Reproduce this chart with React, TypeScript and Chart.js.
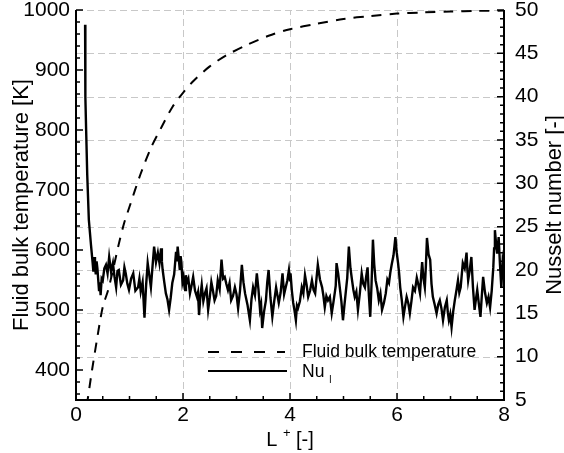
import React, { useEffect, useRef } from "react";
import { Chart, registerables } from "chart.js";

Chart.register(...registerables);

// ---- data ----
const tempL = [0.2, 0.25, 0.3, 0.4, 0.5, 0.6, 0.7, 0.8, 0.9, 1.0, 1.2, 1.4, 1.6, 1.8, 2.0, 2.2, 2.5, 2.8, 3.2, 3.6, 4.0, 4.5, 5.0, 5.5, 6.0, 6.5, 7.0, 7.5, 8.0];
const tempK = [340, 370, 400, 455, 505, 533, 570, 610, 645, 672, 725, 770, 805, 838, 862, 882, 906, 924, 942, 957, 968, 977, 985, 990, 994, 996, 997.5, 998.5, 999];

const nuL = [
  0.17, 0.175, 0.19, 0.21, 0.24, 0.28,
  0.31, 0.325, 0.34, 0.355, 0.37, 0.385, 0.40, 0.415, 0.43, 0.445, 0.46, 0.48, 0.50, 0.53,
  0.56, 0.59, 0.62, 0.655, 0.69, 0.72, 0.75, 0.775, 0.80, 0.84, 0.88, 0.905, 0.93, 0.96, 0.99, 1.03,
  1.07, 1.11, 1.16, 1.185, 1.21, 1.245, 1.28, 1.31, 1.34, 1.37, 1.40, 1.43, 1.46, 1.495, 1.53, 1.56,
  1.59, 1.605, 1.62, 1.65, 1.68, 1.71, 1.74, 1.77, 1.80, 1.835, 1.87, 1.885, 1.90, 1.92, 1.94, 1.955,
  1.97, 1.99, 2.01, 2.025, 2.04, 2.055, 2.07, 2.10, 2.13, 2.16, 2.19, 2.225, 2.26, 2.28, 2.30, 2.325,
  2.35, 2.38, 2.41, 2.44, 2.47, 2.50, 2.53, 2.56, 2.59, 2.62, 2.65, 2.685, 2.72, 2.75, 2.78, 2.81,
  2.84, 2.87, 2.90, 2.935, 2.97, 3.00, 3.03, 3.065, 3.10, 3.13, 3.16, 3.205, 3.25, 3.28, 3.31, 3.345,
  3.38, 3.41, 3.44, 3.46, 3.48, 3.515, 3.55, 3.575, 3.60, 3.635, 3.67, 3.705, 3.74, 3.765, 3.79, 3.825,
  3.86, 3.89, 3.92, 3.95, 3.98, 4.00, 4.01, 4.035, 4.06, 4.085, 4.11, 4.13, 4.15, 4.185, 4.22, 4.25,
  4.28, 4.31, 4.34, 4.375, 4.41, 4.44, 4.47, 4.495, 4.52, 4.56, 4.60, 4.625, 4.65, 4.68, 4.71, 4.745,
  4.78, 4.81, 4.84, 4.855, 4.87, 4.90, 4.93, 4.96, 4.99, 5.015, 5.04, 5.07, 5.10, 5.13, 5.16, 5.185,
  5.21, 5.24, 5.27, 5.305, 5.34, 5.37, 5.40, 5.425, 5.45, 5.475, 5.50, 5.525, 5.55, 5.575, 5.60, 5.63,
  5.66, 5.69, 5.72, 5.755, 5.79, 5.82, 5.85, 5.875, 5.90, 5.935, 5.97, 5.995, 6.02, 6.04, 6.06, 6.09,
  6.12, 6.15, 6.18, 6.21, 6.24, 6.27, 6.30, 6.335, 6.37, 6.40, 6.43, 6.45, 6.47, 6.495, 6.52, 6.54,
  6.56, 6.59, 6.62, 6.645, 6.67, 6.705, 6.74, 6.77, 6.80, 6.83, 6.86, 6.895, 6.93, 6.95, 6.97, 6.995,
  7.02, 7.05, 7.08, 7.11, 7.14, 7.165, 7.19, 7.21, 7.23, 7.265, 7.30, 7.315, 7.33, 7.36, 7.39, 7.42,
  7.45, 7.475, 7.50, 7.53, 7.56, 7.585, 7.61, 7.645, 7.68, 7.71, 7.74, 7.77, 7.80, 7.815, 7.83, 7.85,
  7.87, 7.885, 7.90, 7.925, 7.95, 7.975, 8.00,
];
const nuVal = [
  48.3, 40.0, 36.0, 31.0, 25.8, 22.9,
  20.9, 19.8, 21.5, 20.4, 19.5, 21.0, 20.2, 18.9, 17.7, 18.6, 17.1, 19.0, 18.8, 20.2,
  20.6, 19.6, 21.5, 19.8, 20.8, 19.2, 18.0, 19.9, 20.0, 18.3, 18.8, 20.3, 19.6, 18.4, 17.7, 19.0,
  19.6, 17.6, 18.0, 19.0, 17.5, 18.6, 14.5, 18.2, 20.8, 19.4, 18.0, 20.4, 22.7, 20.9, 22.0, 20.8,
  22.5, 21.0, 20.0, 18.6, 17.3, 16.6, 15.4, 16.8, 18.5, 19.5, 22.1, 21.0, 22.7, 21.4, 20.0, 21.6,
  20.9, 18.6, 19.2, 18.2, 17.7, 19.4, 18.5, 19.0, 17.3, 18.2, 19.2, 17.6, 16.9, 17.4, 14.8, 17.0,
  18.3, 16.4, 17.3, 17.9, 15.4, 16.8, 18.6, 17.6, 16.5, 17.0, 18.8, 17.8, 21.2, 19.0, 19.2, 18.4,
  17.7, 18.5, 16.5, 17.0, 18.0, 17.2, 15.6, 17.6, 20.6, 18.6, 17.3, 16.0, 14.2, 16.6, 18.0, 17.1,
  19.6, 17.8, 15.4, 16.0, 13.3, 15.2, 16.5, 18.6, 20.0, 16.8, 14.6, 16.4, 18.0, 17.1, 16.2, 17.4,
  19.6, 17.2, 18.0, 18.8, 20.0, 18.8, 19.6, 17.6, 16.2, 15.3, 14.2, 15.9, 15.6, 16.4, 18.0, 17.3,
  19.4, 18.3, 16.9, 17.6, 18.8, 17.7, 17.3, 19.0, 20.6, 18.9, 18.0, 17.0, 15.7, 17.0, 16.5, 16.9,
  15.0, 16.2, 17.5, 18.2, 20.8, 19.6, 18.0, 16.4, 14.2, 15.8, 17.3, 19.1, 22.7, 20.2, 18.8, 17.7,
  16.9, 17.5, 15.4, 17.3, 19.6, 18.4, 18.0, 19.3, 20.3, 17.0, 14.6, 18.5, 23.5, 20.6, 18.8, 17.9,
  16.5, 17.3, 15.4, 16.2, 17.3, 18.9, 18.5, 19.7, 20.6, 21.7, 23.8, 22.0, 20.8, 19.6, 18.0, 16.5,
  14.6, 15.8, 16.9, 16.2, 15.0, 16.4, 18.0, 17.6, 19.1, 18.3, 17.3, 19.2, 20.9, 19.0, 18.0, 20.5,
  23.7, 21.8, 21.2, 18.4, 16.9, 16.0, 15.0, 16.0, 16.5, 15.6, 14.2, 15.7, 16.5, 15.1, 14.2, 14.9,
  13.4, 15.2, 16.5, 17.6, 18.8, 17.4, 18.0, 19.4, 20.8, 20.2, 22.0, 20.1, 18.8, 20.0, 21.5, 18.0,
  15.4, 16.6, 17.7, 16.1, 14.6, 17.0, 19.2, 17.4, 16.2, 16.9, 15.7, 17.6, 20.3, 22.5, 24.6, 23.2,
  22.0, 22.7, 23.8, 20.6, 18.0, 21.0, 20.0,
];

const xTicks = [0, 2, 4, 6, 8];
const tempTicks = [400, 500, 600, 700, 800, 900, 1000];
const nuTicks = [5, 10, 15, 20, 25, 30, 35, 40, 45, 50];

const legendTemp = "Fluid bulk temperature";
const legendNu = "Nu";
const legendNuSub = "l";
const leftTitle = "Fluid bulk temperature [K]";
const rightTitle = "Nusselt number [-]";

const FONT = "'Liberation Sans', Arial, Helvetica, sans-serif";

export default function App() {
  const ref = useRef<HTMLCanvasElement>(null);

  useEffect(() => {
    if (!ref.current) return;

    const deco = {
      id: "deco",
      beforeDatasetsDraw(chart: any) {
        const ctx = chart.ctx;
        const { left, right, top, bottom } = chart.chartArea;
        const sx = chart.scales.x;
        const sn = chart.scales.yN;
        ctx.save();
        ctx.strokeStyle = "#c8c8c8";
        ctx.lineWidth = 1;
        ctx.setLineDash([7, 4]);
        for (const v of xTicks) {
          if (v === 0 || v === 8) continue;
          const px = Math.round(sx.getPixelForValue(v)) + 0.5;
          ctx.beginPath();
          ctx.moveTo(px, bottom);
          ctx.lineTo(px, top);
          ctx.stroke();
        }
        for (const v of nuTicks) {
          if (v === 5) continue;
          const py = Math.round(sn.getPixelForValue(v)) + 0.5;
          ctx.beginPath();
          ctx.moveTo(left, py);
          ctx.lineTo(right, py);
          ctx.stroke();
        }
        ctx.restore();
      },
      afterDraw(chart: any) {
        const ctx = chart.ctx;
        const { left, right, top, bottom } = chart.chartArea;
        const sx = chart.scales.x;
        const sT = chart.scales.yT;
        const sn = chart.scales.yN;
        ctx.save();
        ctx.setLineDash([]);
        ctx.strokeStyle = "#000";
        // axis lines
        ctx.lineWidth = 2;
        ctx.beginPath();
        ctx.moveTo(left, top);
        ctx.lineTo(left, bottom);
        ctx.lineTo(right, bottom);
        ctx.lineTo(right, top);
        ctx.stroke();
        // inward ticks
        const major = 7, minor = 4;
        ctx.lineWidth = 1.5;
        ctx.beginPath();
        for (let i = 0; i <= 16; i++) {
          const v = i * 0.5;
          const px = sx.getPixelForValue(v);
          const len = xTicks.includes(v) ? major : minor;
          ctx.moveTo(px, bottom);
          ctx.lineTo(px, bottom - len);
        }
        for (let v = 360; v <= 1000; v += 20) {
          const py = sT.getPixelForValue(v);
          const len = tempTicks.includes(v) ? major : minor;
          ctx.moveTo(left, py);
          ctx.lineTo(left + len, py);
        }
        for (let v = 5; v <= 50; v += 1) {
          const py = sn.getPixelForValue(v);
          const len = nuTicks.includes(v) ? major : minor;
          ctx.moveTo(right, py);
          ctx.lineTo(right - len, py);
        }
        ctx.stroke();

        // axis titles
        ctx.fillStyle = "#000";
        ctx.font = `22px ${FONT}`;
        ctx.textAlign = "center";
        ctx.textBaseline = "alphabetic";
        const cy = (top + bottom) / 2;
        ctx.save();
        ctx.translate(28, cy);
        ctx.rotate(-Math.PI / 2);
        ctx.fillText(leftTitle, 0, 0);
        ctx.restore();
        ctx.save();
        ctx.translate(561, cy);
        ctx.rotate(-Math.PI / 2);
        ctx.fillText(rightTitle, 0, 0);
        ctx.restore();

        // x title: L + [-]
        ctx.textAlign = "left";
        const big = `20px ${FONT}`;
        const small = `13px ${FONT}`;
        ctx.font = big;
        const wL = ctx.measureText("L ").width;
        const wB = ctx.measureText(" [-]").width;
        ctx.font = small;
        const wP = ctx.measureText("+").width;
        const total = wL + wP + wB;
        let tx = (left + right) / 2 - total / 2;
        const ty = 446;
        ctx.font = big;
        ctx.fillText("L ", tx, ty);
        tx += wL;
        ctx.font = small;
        ctx.fillText("+", tx, ty - 9);
        tx += wP;
        ctx.font = big;
        ctx.fillText(" [-]", tx, ty);

        // legend
        const lx0 = 208, lx1 = 285, ltx = 302;
        ctx.lineWidth = 2;
        ctx.setLineDash([11, 12]);
        ctx.beginPath();
        ctx.moveTo(lx0, 352);
        ctx.lineTo(lx1, 352);
        ctx.stroke();
        ctx.setLineDash([]);
        ctx.beginPath();
        ctx.moveTo(lx0, 371);
        ctx.lineTo(lx1 + 2, 371);
        ctx.stroke();
        ctx.font = `17.5px ${FONT}`;
        ctx.fillText(legendTemp, ltx, 357);
        ctx.fillText(legendNu, ltx, 377);
        const wNu = ctx.measureText(legendNu + " ").width;
        ctx.font = `10px ${FONT}`;
        ctx.fillText(legendNuSub, ltx + wNu, 383);
        ctx.restore();
      },
    };

    const tickFont = { family: FONT, size: 21 };
    const plain = (v: any) => String(v);

    const chart = new Chart(ref.current, {
      type: "line",
      data: {
        datasets: [
          {
            label: legendTemp,
            data: tempL.map((x, i) => ({ x, y: tempK[i] })),
            yAxisID: "yT",
            borderColor: "#000",
            borderWidth: 2,
            borderDash: [10, 8],
            pointRadius: 0,
            tension: 0.3,
          },
          {
            label: legendNu,
            data: nuL.map((x, i) => ({ x, y: nuVal[i] })),
            yAxisID: "yN",
            borderColor: "#000",
            borderWidth: 2.4,
            pointRadius: 0,
          },
        ],
      },
      options: {
        responsive: false,
        animation: false,
        devicePixelRatio: 1,
        layout: { padding: { top: 10, left: 0, right: 0, bottom: 0 } },
        plugins: { legend: { display: false }, tooltip: { enabled: false } },
        scales: {
          x: {
            type: "linear",
            min: 0,
            max: 8,
            afterBuildTicks: (s: any) => {
              s.ticks = xTicks.map((v) => ({ value: v }));
            },
            afterFit: (s: any) => {
              s.height = 53;
              s.paddingLeft = 0;
              s.paddingRight = 0;
            },
            ticks: { font: tickFont, color: "#000", padding: 3, maxRotation: 0, autoSkip: false, callback: plain },
            grid: { display: false, drawTicks: false },
            border: { display: false },
          },
          yT: {
            type: "linear",
            position: "left",
            min: 350,
            max: 1000,
            afterBuildTicks: (s: any) => {
              s.ticks = tempTicks.map((v) => ({ value: v }));
            },
            afterFit: (s: any) => {
              s.width = 76;
              s.paddingTop = 0;
              s.paddingBottom = 0;
            },
            ticks: { font: tickFont, color: "#000", padding: 6, autoSkip: false, callback: plain },
            grid: { display: false, drawTicks: false },
            border: { display: false },
          },
          yN: {
            type: "linear",
            position: "right",
            min: 5,
            max: 50,
            afterBuildTicks: (s: any) => {
              s.ticks = nuTicks.map((v) => ({ value: v }));
            },
            afterFit: (s: any) => {
              s.width = 60;
              s.paddingTop = 0;
              s.paddingBottom = 0;
            },
            ticks: { font: tickFont, color: "#000", padding: 11, autoSkip: false, callback: plain },
            grid: { display: false, drawTicks: false },
            border: { display: false },
          },
        },
      },
      plugins: [deco],
    });

    return () => chart.destroy();
  }, []);

  return (
    <div style={{ position: "absolute", left: 0, top: 0, width: 564, height: 453, background: "#fff" }}>
      <canvas ref={ref} width={564} height={453} />
    </div>
  );
}
